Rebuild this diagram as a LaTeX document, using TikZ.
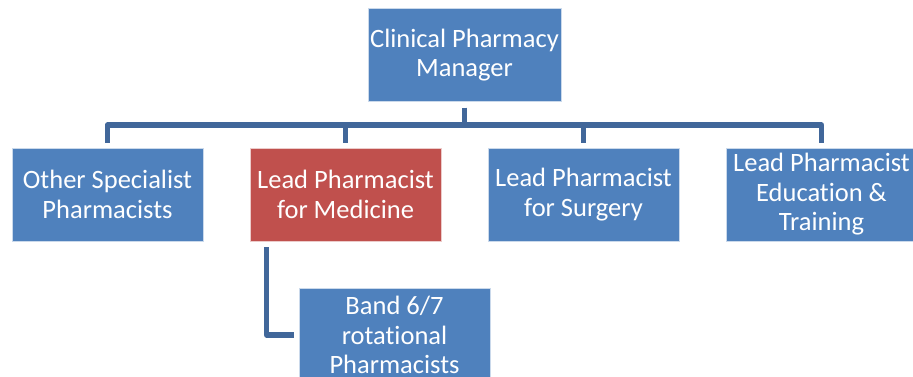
\documentclass[tikz,border=0pt]{standalone}
\usepackage{fontspec}
\setmainfont{Carlito}[Ligatures={NoCommon}]
\usetikzlibrary{calc}
\definecolor{boxblue}{HTML}{4F81BD}
\definecolor{boxred}{HTML}{C0504D}
\definecolor{linkblue}{HTML}{41679A}
\tikzset{
  card/.style={fill=boxblue, draw=white!70!boxblue, line width=0.6pt, text=white,
    minimum width=191bp, minimum height=93bp, inner sep=2bp, align=center,
    font=\fontsize{26.5bp}{29.5bp}\selectfont},
  cardred/.style={card, fill=boxred, draw=white!70!boxred},
  link/.style={draw=linkblue, line width=5.5bp, line join=round,
    shorten <=6bp, shorten >=5bp},
}

\begin{document}
\begin{tikzpicture}[x=1bp,y=-1bp]
  \useasboundingbox (0,0) rectangle (913,376);
  \coordinate (bar) at (0,125);
  % links first, boxes on top
  \node[card] (mgr) at (464.5,55) {Clinical Pharmacy\\Manager};
  \node[card] (other) at (107.5,194.5) {Other Specialist\\Pharmacists};
  \node[cardred] (med) at (345.5,194.5) {Lead Pharmacist\\for Medicine};
  \node[card] (surg) at (583.5,194.5) {Lead Pharmacist\\for Surgery};
  \node[card] (edu) at (821.5,194.5) {Lead Pharmacist\\Education \&\\Training};
  \node[card] (band) at (394.5,335) {Band 6/7\\rotational\\Pharmacists};
  \foreach \n in {other,med,surg,edu}
    \draw[link] (mgr.south) -- (mgr.south |- bar) -| (\n.north);
  \coordinate (medfoot) at ($(med.south west)+(17,0)$);
  \draw[link] (medfoot) |- (band.west);
\end{tikzpicture}
\end{document}
